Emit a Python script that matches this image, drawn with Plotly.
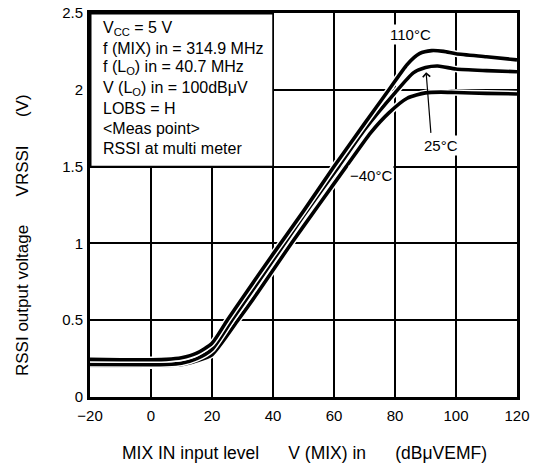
import plotly.graph_objects as go

# ---- data ----
x_110 = [-20, -10, 0, 5, 10, 15, 20, 25, 30, 40, 50, 60, 70, 78, 84, 88, 92, 96, 100, 110, 120]
y_110 = [0.245, 0.243, 0.243, 0.245, 0.255, 0.285, 0.35, 0.50, 0.645, 0.93, 1.21, 1.50, 1.78, 2.00, 2.165, 2.235, 2.255, 2.25, 2.235, 2.215, 2.195]

x_25 = [-20, 0, 5, 10, 15, 20, 26.5, 30, 40, 50, 61.5, 70, 80, 86, 90, 94, 100, 110, 120]
y_25 = [0.212, 0.21, 0.212, 0.22, 0.25, 0.31, 0.50, 0.60, 0.89, 1.18, 1.50, 1.74, 1.98, 2.11, 2.145, 2.155, 2.135, 2.125, 2.118]

x_m40 = [-20, 0, 10, 15, 20, 28.5, 35, 46, 55, 64, 72, 78, 84, 90, 95, 100, 110, 120]
y_m40 = [0.205, 0.203, 0.21, 0.235, 0.275, 0.50, 0.68, 1.00, 1.25, 1.50, 1.72, 1.85, 1.945, 1.98, 1.985, 1.982, 1.977, 1.973]

x_ticks = [-20, 0, 20, 40, 60, 80, 100, 120]
x_ticklabels = ["\u221220", "0", "20", "40", "60", "80", "100", "120"]
y_ticks = [0, 0.5, 1, 1.5, 2, 2.5]
y_ticklabels = ["0", "0.5", "1", "1.5", "2", "2.5"]

box_lines = [
    "V<sub>CC</sub> = 5 V",
    "f (MIX) in = 314.9 MHz",
    "f (L<sub>O</sub>) in = 40.7 MHz",
    "V (L<sub>O</sub>) in = 100dB\u03bcV",
    "LOBS = H",
    "&lt;Meas point&gt;",
    "RSSI at multi meter",
]

FONT = "Liberation Sans, Arial, Helvetica, sans-serif"
SP = "\u00a0" * 6

fig = go.Figure()
for xs, ys in [(x_m40, y_m40), (x_25, y_25), (x_110, y_110)]:
    fig.add_trace(go.Scatter(x=xs, y=ys, mode="lines", line=dict(color="white", width=6.5, shape="spline", smoothing=0.6),
                             hoverinfo="skip", showlegend=False))
    fig.add_trace(go.Scatter(x=xs, y=ys, mode="lines", line=dict(color="black", width=3.6, shape="spline", smoothing=0.6),
                             showlegend=False))

fig.update_layout(
    width=535, height=467,
    margin=dict(l=90, r=18, t=13, b=70, autoexpand=False),
    paper_bgcolor="white", plot_bgcolor="white",
    font=dict(family=FONT, size=15, color="black"),
    showlegend=False,
)
fig.update_xaxes(range=[-20, 120], tickvals=x_ticks, ticktext=x_ticklabels,
                 showgrid=True, gridcolor="black", gridwidth=1.5,
                 showline=True, linecolor="black", linewidth=3, mirror=True,
                 zeroline=False, ticks="", ticklabelstandoff=3, tickfont=dict(size=15),
                 automargin=False)
fig.update_yaxes(range=[0, 2.5], tickvals=y_ticks, ticktext=y_ticklabels,
                 showgrid=True, gridcolor="black", gridwidth=1.5,
                 showline=True, linecolor="black", linewidth=3, mirror=True,
                 zeroline=False, ticks="", ticklabelstandoff=1, tickfont=dict(size=15),
                 automargin=False)

# condition box (covers the grid in the upper-left cell area)
fig.add_shape(type="rect", x0=-20, x1=40, y0=1.5, y1=2.5, xref="x", yref="y",
              fillcolor="white", line=dict(color="black", width=1.5), layer="above")
fig.add_shape(type="line", x0=-20, x1=40, y0=2.5, y1=2.5, xref="x", yref="y",
              line=dict(color="black", width=3), layer="above")
fig.add_shape(type="line", x0=-20, x1=-20, y0=1.5, y1=2.5, xref="x", yref="y",
              line=dict(color="black", width=3), layer="above")

plot_top, plot_h = 13, 384
for i, t in enumerate(box_lines):
    py = 28 + 20 * i
    fig.add_annotation(x=(101 - 90) / 427, xref="paper", y=1 - (py - plot_top) / plot_h, yref="paper",
                       text=t, showarrow=False, xanchor="left", yanchor="middle",
                       font=dict(size=16))

# temperature labels
fig.add_annotation(x=85, y=2.36, text="110\u00b0C", showarrow=False, bgcolor="white",
                   borderpad=1, font=dict(size=15))
fig.add_annotation(x=72, y=1.44, text="\u221240\u00b0C", showarrow=False, bgcolor="white",
                   borderpad=1, font=dict(size=15))
fig.add_annotation(x=95, y=1.64, text="25\u00b0C", showarrow=False, bgcolor="white",
                   borderpad=1, font=dict(size=15))
fig.add_annotation(x=90.2, y=2.115, ax=91.8, ay=1.71, axref="x", ayref="y", xref="x", yref="y",
                   text="", showarrow=True, arrowhead=4, arrowsize=1.2, arrowwidth=1.2,
                   arrowcolor="black")

# axis titles
fig.add_annotation(x=(304 - 90) / 427, xref="paper", y=-(453 - 397) / 384, yref="paper",
                   xanchor="center", yanchor="middle",
                   text="MIX IN input level" + SP + "V (MIX) in" + SP + "(dB\u03bcVEMF)",
                   showarrow=False, font=dict(size=17.5))
fig.add_annotation(x=-(90 - 22) / 427, xref="paper", y=1 - (235 - 13) / 384, yref="paper",
                   xanchor="center", yanchor="middle",
                   text="RSSI output voltage" + SP + "VRSSI" + SP + "(V)",
                   textangle=-90, showarrow=False, font=dict(size=17))

fig.write_html("out.html", config={"displayModeBar": False},
               post_script="document.body.style.margin='0';")
